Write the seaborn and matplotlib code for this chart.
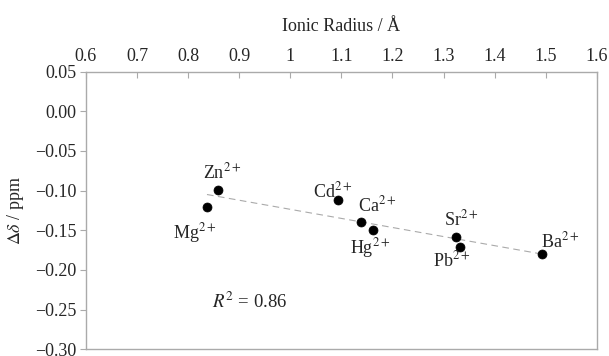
import numpy as np
import pandas as pd
import matplotlib
matplotlib.use("Agg")
import matplotlib.pyplot as plt
import seaborn as sns

# ionic radius (Å) and chemical shift change (ppm)
ions = ["Mg", "Zn", "Cd", "Ca", "Hg", "Sr", "Pb", "Ba"]
radius = [0.837, 0.859, 1.093, 1.139, 1.162, 1.324, 1.332, 1.493]
delta = [-0.121, -0.099, -0.112, -0.140, -0.150, -0.158, -0.171, -0.180]
r_squared = 0.86

x_ticks = [0.6, 0.7, 0.8, 0.9, 1.0, 1.1, 1.2, 1.3, 1.4, 1.5, 1.6]
x_ticklabels = ["0.6", "0.7", "0.8", "0.9", "1", "1.1", "1.2", "1.3", "1.4", "1.5", "1.6"]
y_ticks = [0.05, 0.00, -0.05, -0.10, -0.15, -0.20, -0.25, -0.30]

df = pd.DataFrame({"ion": ions, "radius": radius, "delta": delta})

sns.set_style("white")
plt.rcParams['font.family'] = ['Liberation Serif', 'DejaVu Serif']
plt.rcParams['mathtext.fontset'] = 'stix'
plt.rcParams['axes.unicode_minus'] = True

fig = plt.figure(figsize=(6.09, 3.56), dpi=100)
ax = fig.add_axes([0.141, 0.019, 0.839, 0.780])

# linear trend line
slope, intercept = np.polyfit(df["radius"], df["delta"], 1)
xfit = np.array([df["radius"].min(), df["radius"].max()])
fit_df = pd.DataFrame({"x": xfit, "y": slope * xfit + intercept})
sns.lineplot(data=fit_df, x="x", y="y", ax=ax, color="#aaaaaa", lw=0.8,
             linestyle=(0, (6, 4)))

sns.scatterplot(data=df, x="radius", y="delta", ax=ax, color="black",
                s=42, edgecolor="black", linewidth=0.5, zorder=3)

# label offsets in pixels (left edge, baseline)
offsets = {"Mg": (-34, -31), "Zn": (-15, 11), "Cd": (-25, 3), "Ca": (-3, 11),
           "Hg": (-23, -23), "Sr": (-12, 11), "Pb": (-27, -20), "Ba": (-1, 7)}
for ion, xv, yv in zip(ions, radius, delta):
    ax.annotate(ion + r"$^{2+}$", (xv, yv), xytext=offsets[ion],
                textcoords="offset pixels", fontsize=13, va="baseline", ha="left")

ax.text(0.846, -0.248, r"$R^2$ = " + f"{r_squared:.2f}", fontsize=13.5, va="baseline")

ax.set_xlim(0.6, 1.6)
ax.set_ylim(-0.30, 0.05)
ax.xaxis.set_ticks_position("top")
ax.xaxis.set_label_position("top")
ax.set_xticks(x_ticks)
ax.set_xticklabels(x_ticklabels)
ax.set_yticks(y_ticks)
ax.set_yticklabels([f"{v:.2f}".replace("-", "\u2212") for v in y_ticks])
ax.tick_params(axis="x", direction="in", length=4, color="#aaaaaa",
               labelsize=13, pad=5, top=True, bottom=False)
ax.tick_params(axis="y", direction="out", length=4, color="#aaaaaa",
               labelsize=13, left=True, pad=3)
ax.set_xlabel("Ionic Radius / Å", fontsize=13, labelpad=12)
ax.set_ylabel(r"$\Delta\delta$ / ppm", fontsize=13, labelpad=6)
for sp in ax.spines.values():
    sp.set_color("#aaaaaa")
    sp.set_linewidth(1.0)

fig.savefig("out.png", dpi=100)
